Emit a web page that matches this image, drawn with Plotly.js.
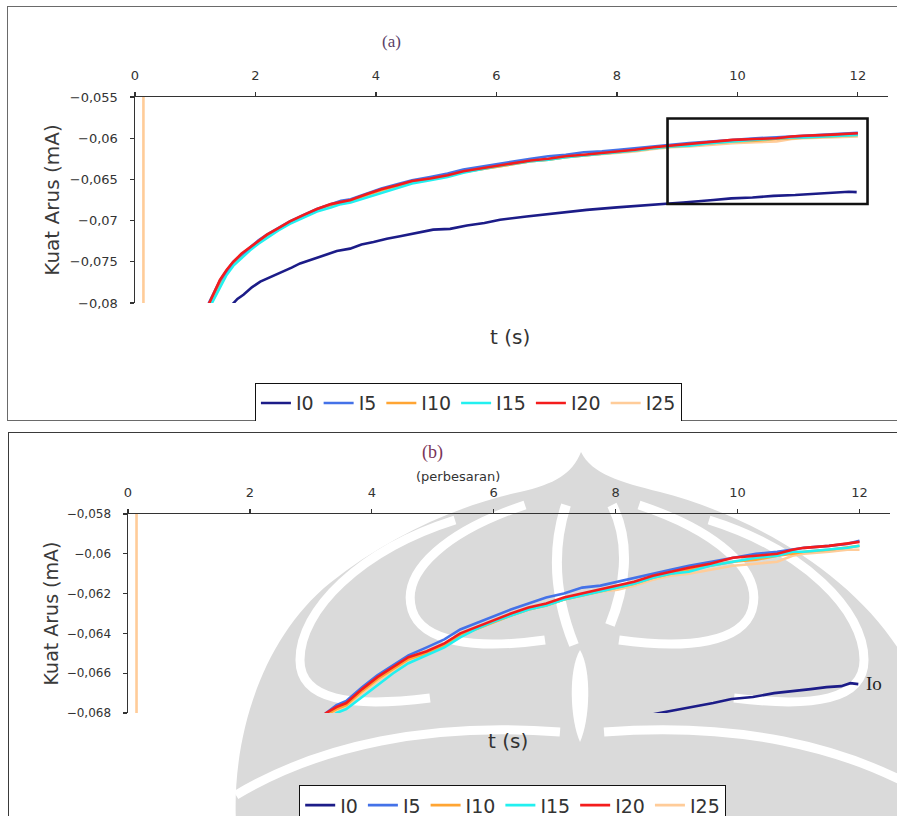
<!DOCTYPE html>
<html><head><meta charset="utf-8">
<script src="https://cdn.plot.ly/plotly-3.0.1.min.js"></script>
<style>
html,body{margin:0;padding:0;background:#fff;width:897px;height:816px;overflow:hidden;}
#frameA{position:absolute;left:7px;top:6px;width:960px;height:413px;border:1.5px solid #6a6a6a;}
#frameB{position:absolute;left:8px;top:432px;width:960px;height:420px;border:1.5px solid #3a3a3a;}
#plotA{position:absolute;left:0;top:0;width:897px;height:421px;}
#plotB{position:absolute;left:0;top:421px;width:897px;height:395px;}
</style></head>
<body>
<div id="frameA"></div><div id="frameB"></div>
<div id="plotA"></div><div id="plotB"></div>
<script>
// ---------------- DATA ----------------
const seriesNames = ['I0','I5','I10','I15','I20','I25'];
const seriesColors = ['#1c1c88','#4472e8','#ffa533','#22f0f0','#f41c1c','#ffcc99'];

const tCommon = [1.22,1.3,1.41,1.52,1.63,1.77,1.91,2.05,2.19,2.38,2.57,2.8,3.02,3.25,3.42,3.58,3.84,4.09,4.35,4.6,4.9,5.19,5.45,5.7,6.0,6.28,6.57,6.86,7.15,7.45,7.75,8.03,8.3,8.61,8.9,9.2,9.55,9.92,10.3,10.65,10.9,11.09,11.5,11.8,12.0];

const tI0 = [1.6,1.7,1.8,1.94,2.08,2.27,2.46,2.6,2.74,2.94,3.13,3.35,3.57,3.76,3.96,4.18,4.4,4.68,4.95,5.23,5.51,5.8,6.06,6.5,7.0,7.5,8.0,8.4,8.72,9.1,9.6,9.9,10.25,10.6,10.96,11.2,11.46,11.7,11.85,11.98];
const i0 = [-0.0803,-0.0795,-0.0790,-0.0781,-0.0774,-0.0768,-0.0762,-0.0757,-0.0752,-0.0747,-0.0742,-0.0737,-0.0734,-0.0729,-0.0726,-0.0722,-0.0719,-0.0715,-0.0711,-0.0710,-0.0706,-0.0703,-0.0699,-0.0695,-0.0691,-0.0687,-0.0684,-0.0682,-0.0680,-0.0678,-0.0675,-0.0673,-0.0672,-0.0670,-0.0669,-0.0668,-0.0667,-0.06665,-0.0665,-0.06655];

const i5 = [-0.0801,-0.0790,-0.0773,-0.0761,-0.0750,-0.0741,-0.0732,-0.0724,-0.0717,-0.0709,-0.0701,-0.0693,-0.0686,-0.0680,-0.0676,-0.0674,-0.0667,-0.0661,-0.0656,-0.0651,-0.0647,-0.0643,-0.0638,-0.0635,-0.0631,-0.0628,-0.0625,-0.0622,-0.0620,-0.0617,-0.0616,-0.0614,-0.0612,-0.0610,-0.0608,-0.0606,-0.0604,-0.0602,-0.0600,-0.0599,-0.0598,-0.0597,-0.0596,-0.0595,-0.05935];
const i10 = [-0.0803,-0.0792,-0.0775,-0.0762,-0.0752,-0.0742,-0.0733,-0.0725,-0.0718,-0.0710,-0.0702,-0.0694,-0.0687,-0.0681,-0.0678,-0.0676,-0.0669,-0.0663,-0.0658,-0.0653,-0.0650,-0.0646,-0.0641,-0.0638,-0.0634,-0.0631,-0.0628,-0.0626,-0.0623,-0.0621,-0.0619,-0.0617,-0.0615,-0.0612,-0.0610,-0.0608,-0.0606,-0.0604,-0.0603,-0.0601,-0.0600,-0.0599,-0.0598,-0.0597,-0.0596];
const i15 = [-0.0808,-0.0797,-0.0780,-0.0766,-0.0755,-0.0745,-0.0736,-0.0728,-0.0721,-0.0712,-0.0704,-0.0696,-0.0689,-0.0684,-0.0680,-0.0678,-0.0672,-0.0666,-0.0660,-0.0655,-0.0651,-0.0647,-0.0642,-0.0638,-0.0634,-0.0631,-0.0628,-0.0626,-0.0623,-0.0621,-0.0619,-0.0617,-0.0615,-0.0612,-0.0610,-0.0609,-0.0606,-0.0604,-0.0602,-0.0601,-0.0599,-0.0599,-0.0598,-0.0597,-0.0596];
const i20 = [-0.0802,-0.0789,-0.0772,-0.0760,-0.0750,-0.0740,-0.0732,-0.0724,-0.0717,-0.0709,-0.0701,-0.0693,-0.0686,-0.0680,-0.0677,-0.0675,-0.0668,-0.0662,-0.0657,-0.0652,-0.0649,-0.0645,-0.0640,-0.0637,-0.0633,-0.0630,-0.0627,-0.0625,-0.0622,-0.0620,-0.0618,-0.0616,-0.0614,-0.0611,-0.0609,-0.0607,-0.0605,-0.0602,-0.0601,-0.0600,-0.0598,-0.0597,-0.0596,-0.0595,-0.0594];
const tSpike25 = [0.14,0.14];
const spike25 = [-0.03,-0.15];
const i25 = [-0.0804,-0.0793,-0.0776,-0.0763,-0.0752,-0.0743,-0.0734,-0.0726,-0.0719,-0.0711,-0.0703,-0.0695,-0.0688,-0.0682,-0.0679,-0.0677,-0.0670,-0.0664,-0.0659,-0.0654,-0.0650,-0.0646,-0.0641,-0.0638,-0.0634,-0.0631,-0.0628,-0.0626,-0.0623,-0.0621,-0.0619,-0.0618,-0.0616,-0.0613,-0.0611,-0.0610,-0.0608,-0.0606,-0.0605,-0.0604,-0.0601,-0.0600,-0.0599,-0.0598,-0.0598];

const xTicks = [0,2,4,6,8,10,12];
const xTickText = ['0','2','4','6','8','10','12'];
const yTicksA = [-0.08,-0.075,-0.07,-0.065,-0.06,-0.055];
const yTickTextA = ['\u22120,08','\u22120,075','\u22120,07','\u22120,065','\u22120,06','\u22120,055'];
const yTicksB = [-0.068,-0.066,-0.064,-0.062,-0.06,-0.058];
const yTickTextB = ['\u22120,068','\u22120,066','\u22120,064','\u22120,062','\u22120,06','\u22120,058'];

// ---------------- TRACES ----------------
function makeTraces(){
  const xs = [tI0, tCommon, tCommon, tCommon, tCommon, tSpike25.concat(tCommon)];
  const ys = [i0, i5, i10, i15, i20, spike25.concat(i25)];
  const drawOrder = [0,5,2,3,1,4];
  return drawOrder.map(k => ({
    type:'scatter', mode:'lines', name: seriesNames[k],
    x: xs[k], y: ys[k], legendrank: k+1,
    line:{color: seriesColors[k], width: 2.6},
    hoverinfo:'skip'
  }));
}

function tickFont(s){ return {family:'DejaVu Sans, sans-serif', size:s, color:'#333'}; }
function axisX(fs){
  return {side:'top', range:[0,12.5], tickmode:'array', tickvals:xTicks, ticktext:xTickText,
    ticks:'outside', ticklen:4, tickwidth:1.2, tickcolor:'#333', showline:true, linecolor:'#333', linewidth:1.5,
    showgrid:false, zeroline:false, tickfont:tickFont(fs), ticklabelstandoff:6, fixedrange:true, automargin:false};
}
function axisY(range, vals, text, fs, tsize, standoff){
  return {range:range, tickmode:'array', tickvals:vals, ticktext:text,
    ticks:'outside', ticklen:4, tickwidth:1.2, tickcolor:'#333', showline:true, linecolor:'#333', linewidth:1.5,
    showgrid:false, zeroline:false, tickfont:tickFont(fs), ticklabelstandoff:9, fixedrange:true, automargin:false,
    title:{text:'Kuat Arus (mA)', font:{family:'DejaVu Sans, sans-serif', size:tsize, color:'#3a3a3a'}, standoff:standoff}};
}
function legendCfg(x,y){
  return {orientation:'h', x:x, y:y, xanchor:'left', yanchor:'top', bgcolor:'#fff',
    bordercolor:'#111', borderwidth:1.2, traceorder:'normal', itemwidth:30,
    font:{family:'DejaVu Sans, sans-serif', size:19, color:'#333'}};
}
function note(text, x, y, font, extra){
  return Object.assign({text:text, xref:'paper', yref:'paper', x:x, y:y, xanchor:'center', yanchor:'middle',
    showarrow:false, font:font}, extra || {});
}

// ---------------- PANEL A ----------------
const layoutA = {
  width:897, height:421, margin:{l:135, r:9, t:97, b:118, autoexpand:false},
  paper_bgcolor:'rgba(0,0,0,0)', plot_bgcolor:'rgba(0,0,0,0)',
  xaxis: axisX(13),
  yaxis: axisY([-0.08,-0.055], yTicksA, yTickTextA, 13, 20, 5),
  showlegend:true, legend: legendCfg(0.159, -0.388),
  shapes:[{type:'rect', xref:'x', yref:'y', x0:8.84, x1:12.16, y0:-0.06798, y1:-0.05761,
    line:{color:'#111', width:2.6}, fillcolor:'rgba(0,0,0,0)'}],
  annotations:[
    note('(a)', 0.3413, 1.267, {family:'Liberation Serif, serif', size:17, color:'#5a4068'}),
    note('t (s)', 0.498, -0.165, {family:'DejaVu Sans, sans-serif', size:20, color:'#333'})
  ]
};
Plotly.newPlot('plotA', makeTraces(), layoutA, {staticPlot:true, displayModeBar:false});

// ---------------- PANEL B ----------------
// watermark (page-pixel geometry converted to panel-B paper coordinates)
function P(px,py){ return ((px-128)/762).toFixed(4)+','+((713-py)/199).toFixed(4); }
function path(cmds){
  let s='';
  cmds.forEach(c => { if (typeof c === 'string') s += c + ' '; else s += P(c[0],c[1]) + ' '; });
  return s.trim();
}
function mirror(cmds){ return cmds.map(c => typeof c === 'string' ? c : [1164-c[0], c[1]]); }
const wmGrey = '#dadada';
const outer = ['M',[581,452],'C',[592,474],[620,482],[660,492],'C',[760,518],[860,580],[905,660],
  'L',[905,822],'L',[236,822],'C',[232,740],[260,640],[330,583],'C',[390,535],[460,505],[520,492],
  'C',[555,484],[572,474],[581,452],'Z'];
const s1 = ['M',[455,520],'C',[360,550],[300,610],[300,660],'C',[300,700],[350,708],[430,698]];
const s2 = ['M',[525,505],'C',[450,530],[400,570],[412,610],'C',[422,642],[475,650],[545,640]];
const s3 = ['M',[236,795],'C',[320,745],[430,722],[560,732]];
const s4 = ['M',[566,505],'C',[548,560],[560,610],[574,645]];
const s5 = ['M',[612,505],'C',[632,545],[624,590],[610,625]];
const wmShapes = [
  {type:'path', xref:'paper', yref:'paper', layer:'below', path:path(outer), fillcolor:wmGrey, line:{width:0}}
];
[s1,s2,s3].forEach(s => {
  wmShapes.push({type:'path', xref:'paper', yref:'paper', layer:'below', path:path(s), line:{color:'#fff', width:9}});
  wmShapes.push({type:'path', xref:'paper', yref:'paper', layer:'below', path:path(mirror(s)), line:{color:'#fff', width:9}});
});
[s4,s5].forEach(s => wmShapes.push({type:'path', xref:'paper', yref:'paper', layer:'below', path:path(s), line:{color:'#fff', width:10}}));
wmShapes.push({type:'path', xref:'paper', yref:'paper', layer:'below',
  path:path(['M',[580,650],'C',[592,670],[590,720],[580,742],'C',[570,720],[568,670],[580,650],'Z']), fillcolor:'#fff', line:{width:0}});

const layoutB = {
  width:897, height:395, margin:{l:128, r:7, t:93, b:103, autoexpand:false},
  paper_bgcolor:'rgba(0,0,0,0)', plot_bgcolor:'rgba(0,0,0,0)',
  xaxis: axisX(13),
  yaxis: axisY([-0.068,-0.058], yTicksB, yTickTextB, 12, 19, 3),
  showlegend:true, legend: legendCfg(0.2244, -0.362),
  shapes: wmShapes,
  annotations:[
    note('(b)', 0.399, 1.307, {family:'Liberation Serif, serif', size:18, color:'#7a3458'}),
    note('(perbesaran)', 0.433, 1.19, {family:'DejaVu Sans, sans-serif', size:13, color:'#333'}),
    note('t (s)', 0.4987, -0.141, {family:'DejaVu Sans, sans-serif', size:20, color:'#333'}),
    {text:'Io', xref:'x', yref:'y', x:12.07, y:-0.06652, xanchor:'left', yanchor:'middle', showarrow:false,
      font:{family:'Liberation Serif, serif', size:19, color:'#222'}}
  ]
};
Plotly.newPlot('plotB', makeTraces(), layoutB, {staticPlot:true, displayModeBar:false});
</script>
</body></html>
